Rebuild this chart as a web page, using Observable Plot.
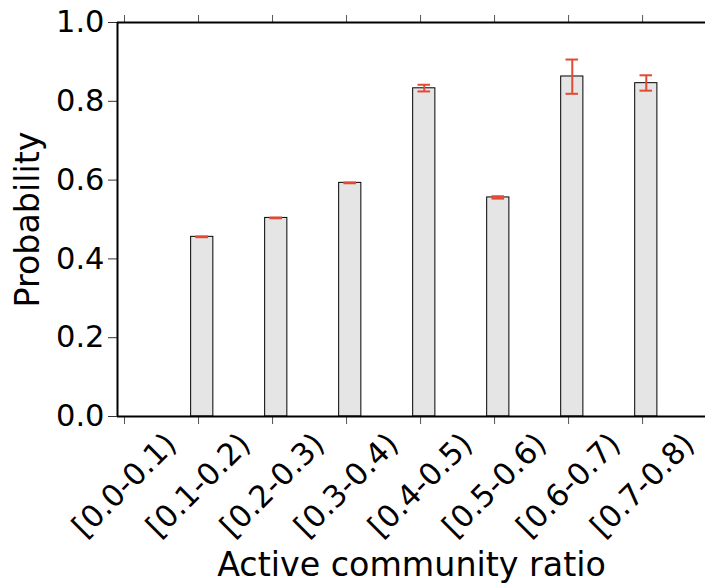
<!DOCTYPE html>
<html>
<head>
<meta charset="utf-8">
<script src="https://cdn.jsdelivr.net/npm/d3@7"></script>
<script src="https://cdn.jsdelivr.net/npm/@observablehq/plot@0.6"></script>
<style>
  html, body { margin: 0; padding: 0; background: white; }
</style>
</head>
<body>
<div id="chart"></div>
<script>
const categories = ["[0.0-0.1)", "[0.1-0.2)", "[0.2-0.3)", "[0.3-0.4)", "[0.4-0.5)", "[0.5-0.6)", "[0.6-0.7)", "[0.7-0.8)"];
const probability = [null, 0.456, 0.504, 0.593, 0.833, 0.556, 0.863, 0.846];
const errLow = [null, 0.455, 0.503, 0.592, 0.825, 0.553, 0.819, 0.827];
const errHigh = [null, 0.457, 0.505, 0.594, 0.842, 0.559, 0.906, 0.866];
const yTicks = [0, 0.2, 0.4, 0.6, 0.8, 1.0];
const xLabel = "Active community ratio";
const yLabel = "Probability";

const table = categories.map((c, i) => ({i, c, p: probability[i], lo: errLow[i], hi: errHigh[i]}));
const valid = table.filter(d => d.p != null);
const idx = table.map(d => d.i);
const xMin = -0.095, xMax = 7.85;
const red = "#E24A33";
const font = "DejaVu Sans";

const chart = Plot.plot({
  width: 705,
  height: 586,
  marginLeft: 117,
  marginRight: 0,
  marginTop: 22,
  marginBottom: 170,
  style: {fontFamily: font, color: "black", background: "white"},
  x: {type: "linear", domain: [xMin, xMax], axis: null},
  y: {domain: [0, 1], axis: null},
  marks: [
    Plot.rectY(valid, {x1: d => d.i - 0.1, x2: d => d.i + 0.2, y1: 0, y2: "p", fill: "#e5e5e5", stroke: "black", strokeWidth: 1}),
    Plot.ruleX(valid, {x: d => d.i + 0.05, y1: "lo", y2: "hi", stroke: red, strokeWidth: 2}),
    Plot.ruleY(valid, {y: "hi", x1: d => d.i + 0.05 - 0.085, x2: d => d.i + 0.05 + 0.085, stroke: red, strokeWidth: 2}),
    Plot.ruleY(valid, {y: "lo", x1: d => d.i + 0.05 - 0.085, x2: d => d.i + 0.05 + 0.085, stroke: red, strokeWidth: 2}),
    Plot.axisY({ticks: yTicks, tickSize: 9, tickPadding: 4, fontSize: 30.5, tickFormat: d3.format(".1f"), label: null, stroke: "#333"}),
    Plot.axisX({ticks: idx, tickSize: 8, tickFormat: () => "", label: null, stroke: "#555"}),
    Plot.axisX({anchor: "top", ticks: idx, tickSize: 8, tickFormat: () => "", label: null, stroke: "#555"}),
    Plot.text(table, {x: "i", y: () => 0, text: "c", rotate: -45, textAnchor: "middle", lineAnchor: "middle", dy: 69, fontSize: 30.5, fill: "black"}),
    Plot.ruleY([0, 1], {stroke: "black", strokeWidth: 2}),
    Plot.ruleX([xMin], {stroke: "black", strokeWidth: 2}),
    Plot.text([xLabel], {frameAnchor: "bottom", textAnchor: "middle", dy: 149, fontSize: 33.3, lineAnchor: "middle", fill: "black"}),
    Plot.text([yLabel], {frameAnchor: "left", textAnchor: "middle", dx: -89, rotate: -90, fontSize: 33.3, lineAnchor: "middle", fill: "black"})
  ]
});
document.getElementById("chart").appendChild(chart);
</script>
</body>
</html>
